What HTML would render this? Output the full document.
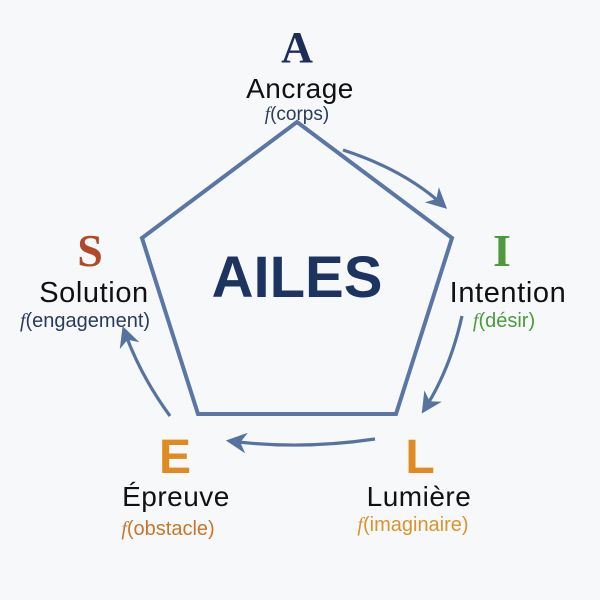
<!DOCTYPE html>
<html><head><meta charset="utf-8"><style>
html,body{margin:0;padding:0;background:#f7f8f9;}
svg{display:block}
</style></head><body>
<svg width="600" height="600" viewBox="0 0 600 600" xmlns="http://www.w3.org/2000/svg">
<rect width="600" height="600" fill="#f7f8f9"/>
<defs>
<marker id="ah" viewBox="0 0 10 10" refX="8" refY="5" markerWidth="6.5" markerHeight="6.5" orient="auto">
<path d="M0,0 L10,5 L0,10 L3,5 z" fill="#56739f"/>
</marker>
</defs>
<polygon points="297,122 452,238 396,414 198,414 142,238" fill="none" stroke="#5a76a6" stroke-width="4" stroke-linejoin="miter"/>
<g fill="none" stroke="#56739f" stroke-width="3.2" marker-end="url(#ah)">
<path d="M343,150 Q405,170 444,206"/>
<path d="M462,316 Q450,370 424,410"/>
<path d="M375,439 Q300,450 230,441"/>
<path d="M170,416 Q140,375 124,330"/>
</g>
<g font-family="Liberation Sans, sans-serif" text-anchor="middle">
<text x="297" y="297" font-size="58" font-weight="bold" fill="#1d3461">AILES</text>
<text x="297" y="62" font-size="44" font-weight="bold" fill="#1b2d58" font-family="Liberation Serif, serif">A</text>
<text x="300" y="98" font-size="28" letter-spacing="0.5" fill="#111">Ancrage</text>
<text x="297" y="120" font-size="19" fill="#2a3b5e"><tspan font-style="italic" font-family="Liberation Serif, serif">f</tspan>(corps)</text>
<text x="90" y="266" font-size="46" font-weight="bold" fill="#b04a2a" font-family="Liberation Serif, serif">S</text>
<text x="94" y="302" font-size="29" letter-spacing="0.6" fill="#111">Solution</text>
<text x="85" y="327" font-size="20" fill="#2a3b5e"><tspan font-style="italic" font-family="Liberation Serif, serif">f</tspan>(engagement)</text>
<text x="502" y="266" font-size="46" font-weight="bold" fill="#4c9a3c" font-family="Liberation Serif, serif">I</text>
<text x="508" y="302" font-size="29" letter-spacing="0.6" fill="#111">Intention</text>
<text x="504" y="327" font-size="20" fill="#4c9a3c"><tspan font-style="italic" font-family="Liberation Serif, serif">f</tspan>(désir)</text>
<text x="175" y="473" font-size="48" font-weight="bold" fill="#e08a22">E</text>
<text x="176" y="506" font-size="28" letter-spacing="0.5" fill="#111">Épreuve</text>
<text x="168" y="535" font-size="20" fill="#c9762a"><tspan font-style="italic" font-family="Liberation Serif, serif">f</tspan>(obstacle)</text>
<text x="420" y="473" font-size="48" font-weight="bold" fill="#e08a22">L</text>
<text x="419" y="506" font-size="28" letter-spacing="0.5" fill="#111">Lumière</text>
<text x="413" y="531" font-size="20" fill="#d9942e"><tspan font-style="italic" font-family="Liberation Serif, serif">f</tspan>(imaginaire)</text>
</g>
</svg>
</body></html>
